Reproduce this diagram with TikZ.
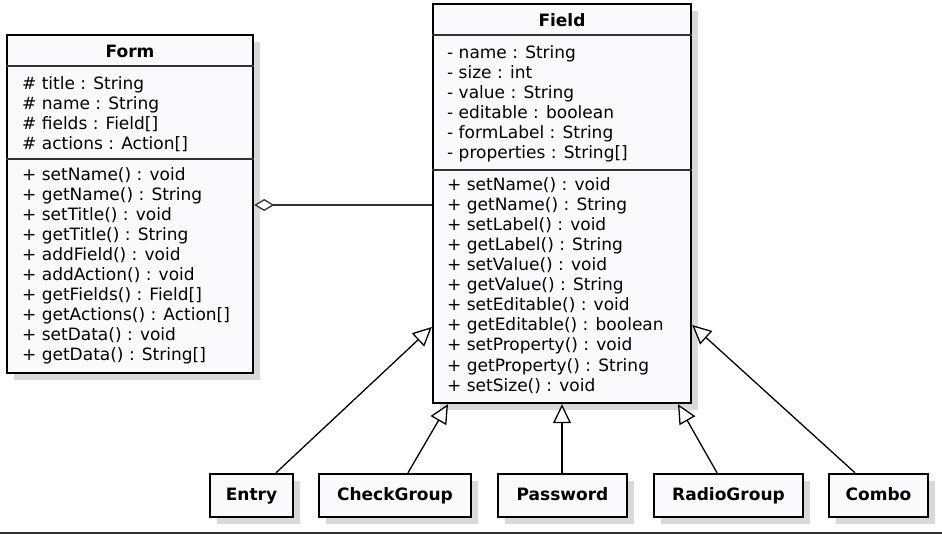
\documentclass[tikz,border=0pt]{standalone}
\usepackage{fontspec}
\setmainfont{DejaVu Sans}
\usetikzlibrary{arrows.meta,shadows,calc}
\definecolor{boxfill}{RGB}{250,250,253}
\definecolor{shadowgray}{RGB}{217,217,217}
\definecolor{sepgray}{RGB}{50,50,50}
\tikzset{
  umlbox/.style={draw=black, line width=2.4pt, fill=boxfill, inner sep=0pt,
    drop shadow={shadow xshift=7pt, shadow yshift=-7pt, fill=shadowgray, opacity=1}},
  sepline/.style={draw=sepgray, line width=1.4pt},
  member/.style={anchor=base west, inner sep=0pt, font=\fontsize{17}{20}\selectfont},
  titletext/.style={anchor=base, inner sep=0pt, font=\fontsize{17}{20}\selectfont\bfseries},
  leaftext/.style={font=\fontsize{17}{20}\selectfont\bfseries, text height=13pt, text depth=4pt},
  gen/.style={line width=1.3pt, -{Triangle[open, length=19pt, width=18pt, fill=white, line width=1.3pt]}},
  agg/.style={line width=1.4pt, draw=sepgray, {Diamond[open, length=20pt, width=12pt, fill=white, line width=1.3pt]}-}
}
\begin{document}
\begin{tikzpicture}[x=1pt, y=-1pt]
\useasboundingbox (0,0) rectangle (942,534);

% Form class
\node[umlbox, minimum width=246pt, minimum height=338pt] (form) at (130,204) {};
\draw[sepline] (form.west |- 0,66) -- (form.east |- 0,66);
\draw[sepline] (form.west |- 0,159) -- (form.east |- 0,159);
\node[titletext] (formtitle) at (130,58) {Form};
\foreach \t [count=\i] in {\# title : String, \# name : String, \# fields : Field[], \# actions : Action[]}
  \node[member] (fa\i) at (22,{70+20*\i}) {\t};
\foreach \t [count=\i] in {+ setName() : void, + getName() : String, + setTitle() : void, + getTitle() : String, + addField() : void, + addAction() : void, + getFields() : Field[], + getActions() : Action[], + setData() : void, + getData() : String[]}
  \node[member] (fm\i) at (22,{161+20*\i}) {\t};

% Field class
\node[umlbox, minimum width=258pt, minimum height=399pt] (field) at (562,203.5) {};
\draw[sepline] (field.west |- 0,35) -- (field.east |- 0,35);
\draw[sepline] (field.west |- 0,170) -- (field.east |- 0,170);
\node[titletext] (fieldtitle) at (562,27) {Field};
\foreach \t [count=\i] in {- name : String, - size : int, - value : String, - editable : boolean, - formLabel : String, - properties : String[]}
  \node[member] (la\i) at (447,{39+20*\i}) {\t};
\foreach \t [count=\i] in {+ setName() : void, + getName() : String, + setLabel() : void, + getLabel() : String, + setValue() : void, + getValue() : String, + setEditable() : void, + getEditable() : boolean, + setProperty() : void, + getProperty() : String, + setSize() : void}
  \node[member] (lm\i) at (447,{171+20*\i}) {\t};

% Subclasses
\node[umlbox, leaftext, minimum width=83pt, minimum height=43pt] (entry) at (251.5,495.5) {Entry};
\node[umlbox, leaftext, minimum width=152pt, minimum height=43pt] (checkgroup) at (395,495.5) {CheckGroup};
\node[umlbox, leaftext, minimum width=129pt, minimum height=43pt] (password) at (562.5,495.5) {Password};
\node[umlbox, leaftext, minimum width=149pt, minimum height=43pt] (radiogroup) at (728.5,495.5) {RadioGroup};
\node[umlbox, leaftext, minimum width=99pt, minimum height=43pt] (combo) at (878.5,495.5) {Combo};

% Aggregation
\draw[agg] (form.east |- 0,205) -- (field.west |- 0,205);

% Generalizations
\draw[gen] (entry.north -| 276,0) -- (field.west |- 0,327);
\draw[gen] (checkgroup.north -| 408,0) -- (field.south -| 448,0);
\draw[gen] (password.north -| 562,0) -- (field.south -| 562,0);
\draw[gen] (radiogroup.north -| 717,0) -- (field.south -| 678,0);
\draw[gen] (combo.north -| 855,0) -- (field.east |- 0,325);

% bottom edge line
\draw[draw=sepgray, line width=2pt] (0,533) -- (942,533);
\end{tikzpicture}
\end{document}
